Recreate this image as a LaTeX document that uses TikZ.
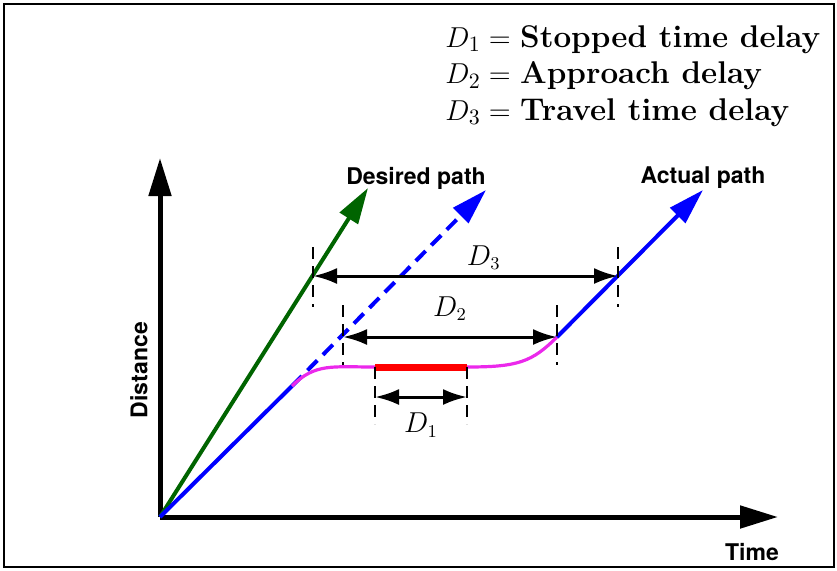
\documentclass[tikz,border=0pt]{standalone}
\usepackage{fontspec}
\newfontfamily\labelfont{TeX Gyre Heros}
\usepackage{xcolor}
\usetikzlibrary{arrows.meta}

\definecolor{desgreen}{RGB}{0,100,0}
\definecolor{curvemag}{RGB}{235,40,235}

\begin{document}
\begin{tikzpicture}[
    x=0.5pt, y=-0.5pt,
    axis/.style={line width=2.5pt, -{Triangle[length=19pt, width=11pt]}},
    route/.style={line width=2pt, -{Triangle[length=18pt, width=10.5pt]}},
    tick/.style={line width=1.3pt, dash pattern=on 6pt off 3.5pt},
    dim/.style={line width=1.5pt, {Latex[length=12pt, width=8pt]}-{Latex[length=12pt, width=8pt]}},
    lbl/.style={font=\labelfont\bfseries\fontsize{11.5}{13}\selectfont},
    dlbl/.style={font=\fontsize{13.5}{16}\selectfont},
]
\useasboundingbox (0,0) rectangle (837,570);
\draw[line width=0.8pt] (4,4) rectangle (834,567);

% key points of the picture
\coordinate (O) at (160,517);
\coordinate (ytip) at (160,158);
\coordinate (xtip) at (778,517);
\coordinate (gtip) at (368,188);
\coordinate (split) at (292,386);
\coordinate (btip) at (486,190);
\coordinate (stopA) at (375,367);
\coordinate (stopB) at (467,367);
\coordinate (rejoin) at (557,337);
\coordinate (atip) at (703,190);

% axes
\draw[axis] (O) -- (ytip);
\draw[axis] (O) -- (xtip);

% desired and actual paths
\draw[route, desgreen] (O) -- (gtip);
\draw[route, blue, dash pattern=on 7pt off 4pt] (split) -- (btip);
\draw[line width=2pt, blue] (O) -- (split);
\draw[line width=1.6pt, curvemag] (split) .. controls (315,363) and (332,367) .. (stopA);
\draw[line width=1.6pt, curvemag] (stopB) .. controls (518,367) and (532,362) .. (rejoin);
\draw[line width=3.5pt, red] (stopA) -- (stopB);
\draw[route, blue] (rejoin) -- (atip);

% delays
\coordinate (d3l) at (313,276);
\coordinate (d3r) at (618,276);
\coordinate (d2l) at (343,337);
\coordinate (d2r) at (rejoin);
\coordinate (d1l) at (375,397);
\coordinate (d1r) at (467,397);

\draw[tick] (d3l) ++(0,-29) -- ++(0,60);
\draw[tick] (d3r) ++(0,-29) -- ++(0,60);
\draw[tick] (d2l) ++(0,-32) -- ++(0,60);
\draw[tick] (d2r) ++(0,-32) -- ++(0,60);
\draw[tick] (stopA) -- ++(0,57);
\draw[tick] (stopB) -- ++(0,57);

\draw[dim] (d3l) -- node[dlbl, above=-1pt, pos=0.56] (lD3) {$D_3$} (d3r);
\draw[dim] (d2l) -- node[dlbl, above=4pt] (lD2) {$D_2$} (d2r);
\draw[dim] (d1l) -- node[dlbl, below=4pt] (lD1) {$D_1$} (d1r);

% labels
\node[lbl] (desired) at (416,178) {Desired path};
\node[lbl] (actual) at (703,178) {Actual path};
\node[lbl, rotate=90] (dist) at (139,370) {Distance};
\node[lbl] (time) at (752,552) {Time};

\node[anchor=north west, align=left, inner sep=0pt, font=\fontsize{15.7}{18.3}\selectfont] (legend) at (445,25)
  {$D_1 =$ \textbf{Stopped time delay}\\ $D_2 =$ \textbf{Approach delay}\\ $D_3 =$ \textbf{Travel time delay}};
\end{tikzpicture}
\end{document}
